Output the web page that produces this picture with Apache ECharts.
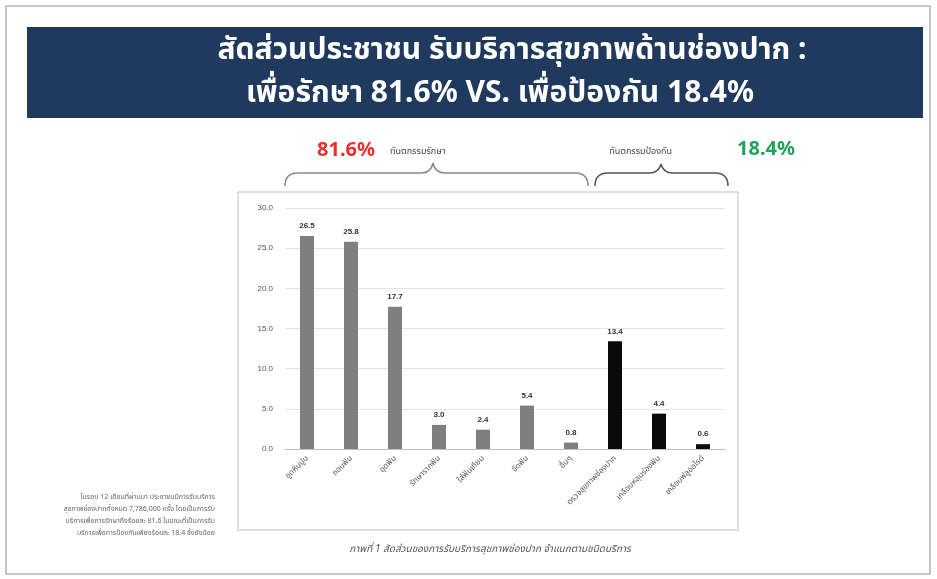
<!DOCTYPE html>
<html><head><meta charset="utf-8">
<script src="https://cdn.jsdelivr.net/npm/echarts@6/dist/echarts.min.js"></script>
<style>html,body{margin:0;padding:0;background:#fff}#c{width:937px;height:579px}</style>
</head><body><div id="c"></div>
<script>
const categories = ['ขูดหินปูน','ถอนฟัน','อุดฟัน','รักษารากฟัน','ใส่ฟันเทียม','จัดฟัน','อื่นๆ','ตรวจสุขภาพช่องปาก','เคลือบหลุมร่องฟัน','เคลือบฟลูออไรด์'];
const values = [26.5, 25.8, 17.7, 3.0, 2.4, 5.4, 0.8, 13.4, 4.4, 0.6];
const groups = ['treat','treat','treat','treat','treat','treat','treat','prevent','prevent','prevent'];
const yTicks = [0, 5, 10, 15, 20, 25, 30];
const groupColors = {treat: '#7f7f7f', prevent: '#0a0a0a'};

const FONT = "'Noto Sans','Noto Sans Thai','Loma','Garuda',sans-serif";

function brace(x1, x2, xm, yb, yl, yp, color) {
  const r = 13, c = 12;
  const st = {fill: 'none', stroke: color, lineWidth: 1.5};
  return [
    {type: 'bezierCurve', z: 10, shape: {x1: x1, y1: yb, x2: x1 + r, y2: yl, cpx1: x1, cpy1: yl}, style: st},
    {type: 'line', z: 10, shape: {x1: x1 + r, y1: yl, x2: xm - c, y2: yl}, style: st},
    {type: 'bezierCurve', z: 10, shape: {x1: xm - c, y1: yl, x2: xm, y2: yp, cpx1: xm - 2, cpy1: yl}, style: st},
    {type: 'bezierCurve', z: 10, shape: {x1: xm, y1: yp, x2: xm + c, y2: yl, cpx1: xm + 2, cpy1: yl}, style: st},
    {type: 'line', z: 10, shape: {x1: xm + c, y1: yl, x2: x2 - r, y2: yl}, style: st},
    {type: 'bezierCurve', z: 10, shape: {x1: x2 - r, y1: yl, x2: x2, y2: yb, cpx1: x2, cpy1: yl}, style: st}
  ];
}

const chart = echarts.init(document.getElementById('c'));
chart.setOption({
  backgroundColor: '#fff',
  animation: false,
  grid: {left: 285, right: 212, top: 208, bottom: 130, containLabel: false},
  xAxis: {
    type: 'category', data: categories,
    axisLine: {lineStyle: {color: '#bfbfbf'}},
    axisTick: {show: false},
    axisLabel: {rotate: 45, fontSize: 8, color: '#555', fontFamily: FONT, margin: 8, interval: 0}
  },
  yAxis: {
    type: 'value', min: yTicks[0], max: yTicks[yTicks.length - 1], interval: 5,
    axisLine: {show: false}, axisTick: {show: false},
    splitLine: {lineStyle: {color: '#e3e3e3'}},
    axisLabel: {fontSize: 8, color: '#555', formatter: v => v.toFixed(1), margin: 12}
  },
  series: [{
    type: 'bar', barWidth: 14,
    data: values.map((v, i) => ({value: v, itemStyle: {color: groupColors[groups[i]]}})),
    label: {show: true, position: 'top', fontSize: 8, fontWeight: 'bold', color: '#333', distance: 6,
      formatter: p => p.value.toFixed(1)}
  }],
  graphic: [
    {type: 'rect', z: -10, shape: {x: 6, y: 6, width: 924, height: 568},
      style: {fill: '#fff', stroke: '#c8c8c8', lineWidth: 2}},
    {type: 'rect', z: -5, shape: {x: 27, y: 27, width: 896, height: 91},
      style: {fill: '#203a5e'}},
    {type: 'text', z: 10, x: 512, y: 50,
      style: {text: 'สัดส่วนประชาชน รับบริการสุขภาพด้านช่องปาก :', fill: '#fff',
        font: 'bold 30px ' + FONT, textAlign: 'center', textVerticalAlign: 'middle'}},
    {type: 'text', z: 10, x: 500, y: 93,
      style: {text: 'เพื่อรักษา 81.6% VS. เพื่อป้องกัน 18.4%', fill: '#fff',
        font: 'bold 30px ' + FONT, textAlign: 'center', textVerticalAlign: 'middle'}},
    {type: 'rect', z: -4, shape: {x: 238, y: 192, width: 500, height: 338},
      style: {fill: 'none', stroke: '#d6d6d6', lineWidth: 1.5}},
    {type: 'text', z: 10, x: 346, y: 150,
      style: {text: '81.6%', fill: '#e8302f', font: 'bold 20px ' + FONT,
        textAlign: 'center', textVerticalAlign: 'middle'}},
    {type: 'text', z: 10, x: 390, y: 151,
      style: {text: 'ทันตกรรมรักษา', fill: '#444', font: '9px ' + FONT,
        textAlign: 'left', textVerticalAlign: 'middle'}},
    {type: 'text', z: 10, x: 672, y: 151,
      style: {text: 'ทันตกรรมป้องกัน', fill: '#444', font: '9px ' + FONT,
        textAlign: 'right', textVerticalAlign: 'middle'}},
    {type: 'text', z: 10, x: 766, y: 149,
      style: {text: '18.4%', fill: '#23a35a', font: 'bold 20px ' + FONT,
        textAlign: 'center', textVerticalAlign: 'middle'}},
    ...brace(285, 588, 433, 186, 173, 163, '#8a8a8a'),
    ...brace(595, 728, 661, 186, 173, 164, '#555'),
    {type: 'text', z: 10, x: 490, y: 549,
      style: {text: 'ภาพที่ 1 สัดส่วนของการรับบริการสุขภาพช่องปาก จำแนกตามชนิดบริการ', fill: '#555',
        font: 'italic 10px ' + FONT, textAlign: 'center', textVerticalAlign: 'middle'}},
    {type: 'text', z: 10, x: 215, y: 491,
      style: {text: 'ในรอบ 12 เดือนที่ผ่านมา ประชาชนมีการรับบริการ\nสุขภาพช่องปากทั้งหมด 7,786,000 ครั้ง โดยเป็นการรับ\nบริการเพื่อการรักษาถึงร้อยละ 81.6 ในขณะที่เป็นการรับ\nบริการเพื่อการป้องกันเพียงร้อยละ 18.4 ซึ่งยังน้อย',
        fill: '#666', font: '7px ' + FONT, lineHeight: 12, textAlign: 'right', textVerticalAlign: 'top'}}
  ]
});
</script></body></html>
